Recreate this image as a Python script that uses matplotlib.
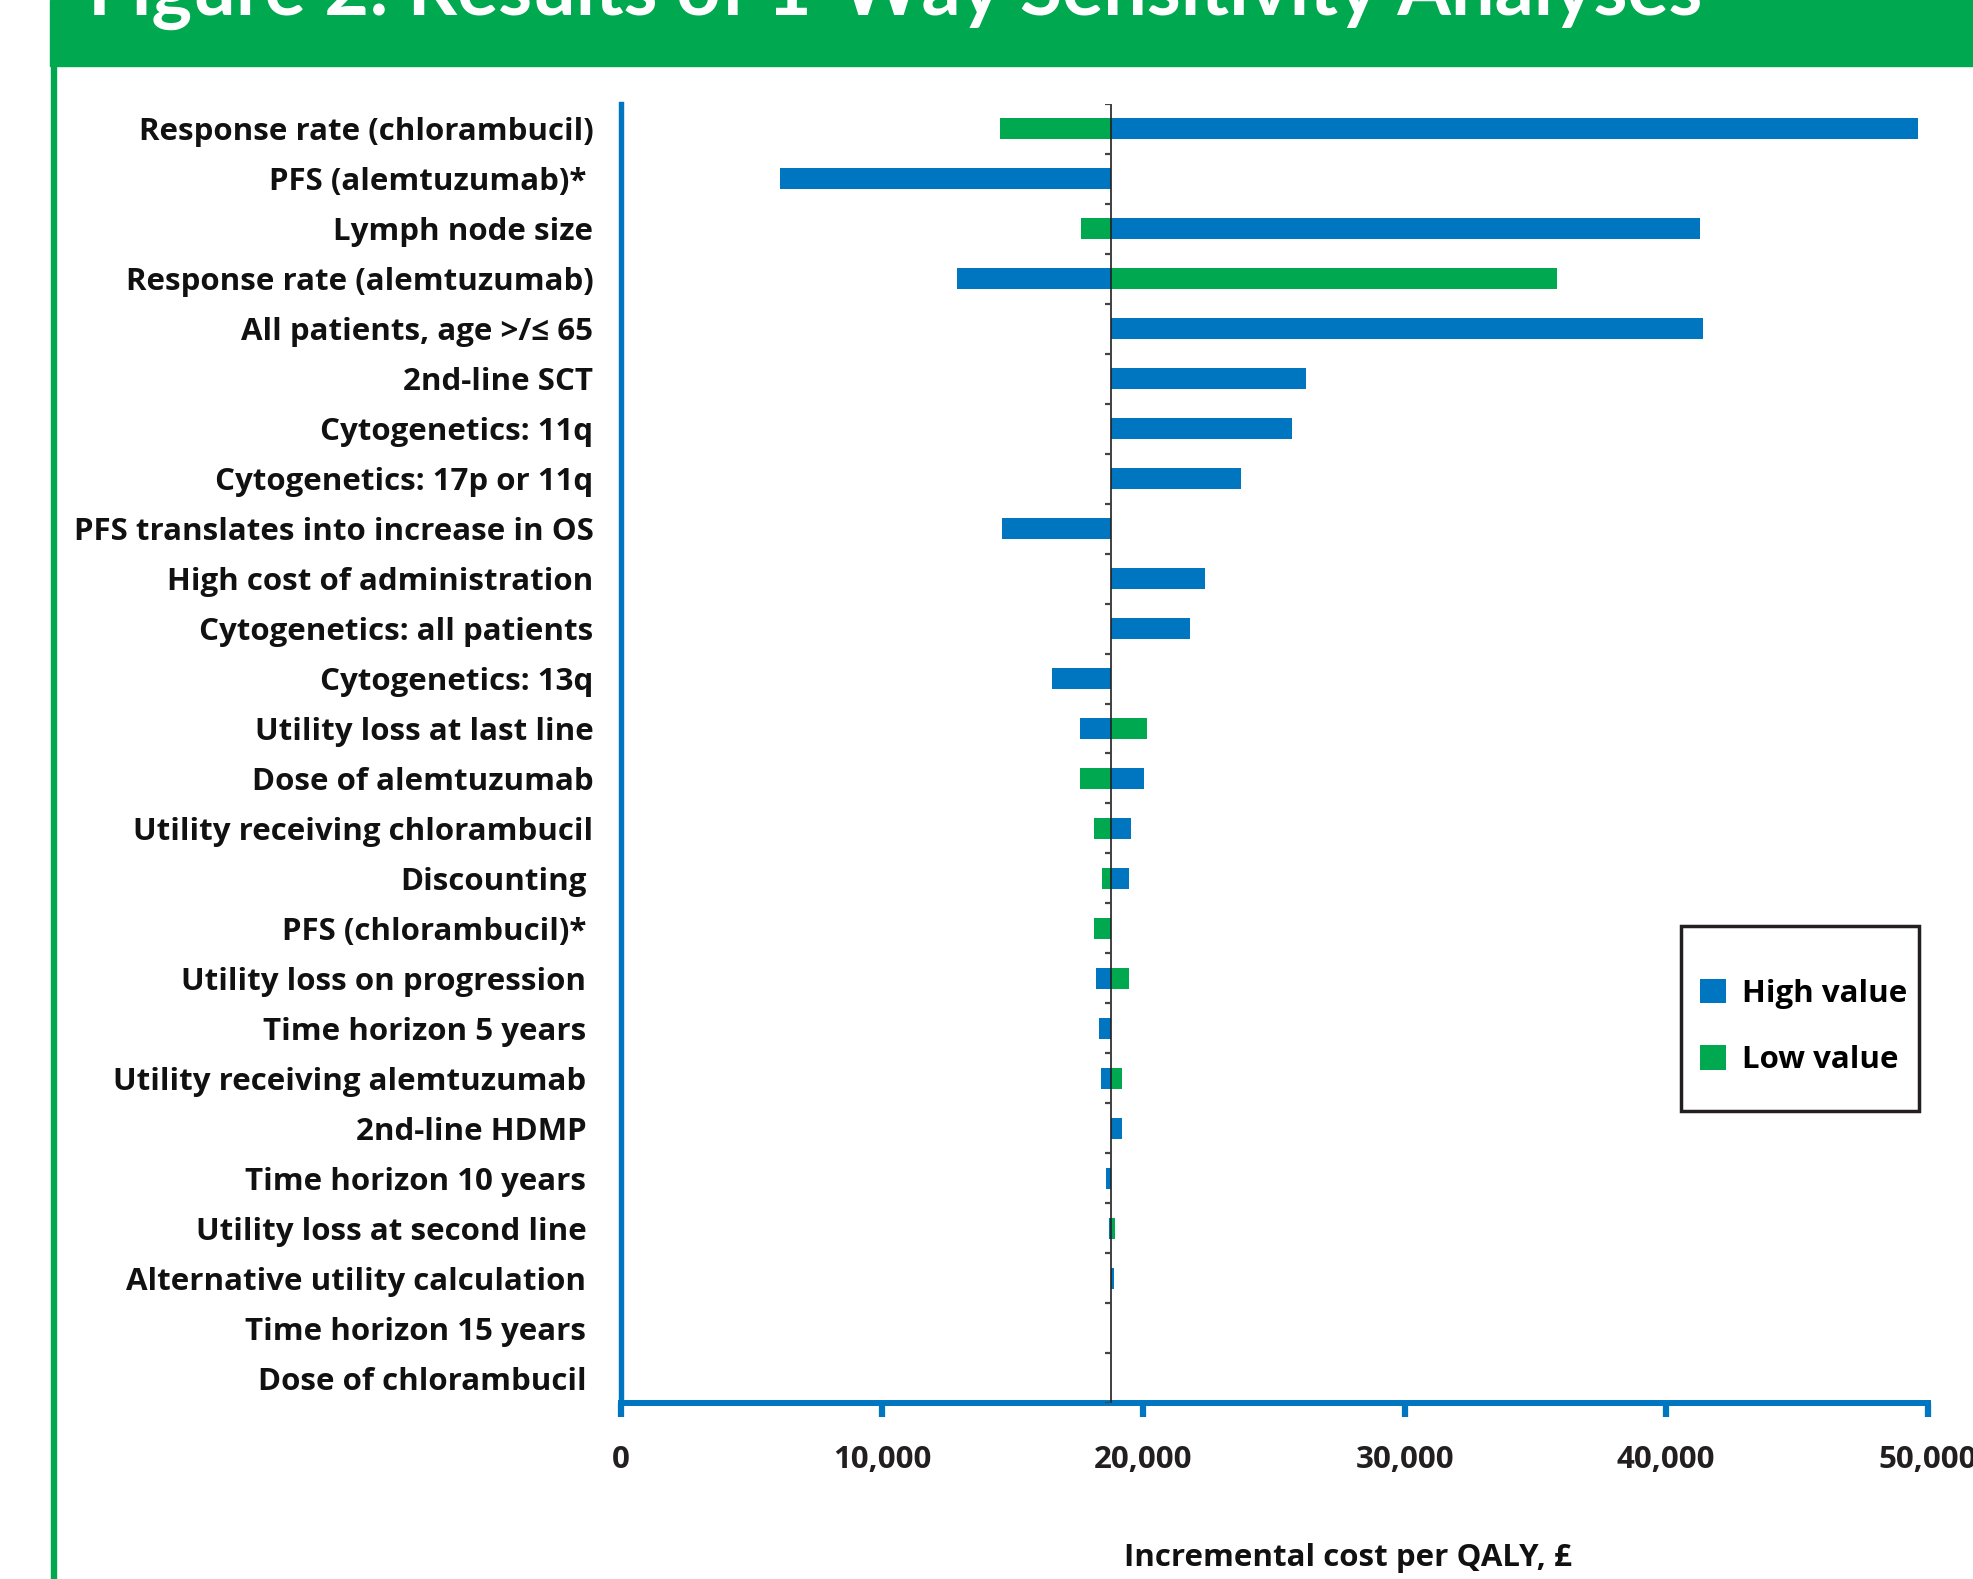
import matplotlib
matplotlib.use("Agg")
import matplotlib.pyplot as plt
import matplotlib.transforms as mtransforms
import numpy as np
from matplotlib.patches import Patch, Rectangle

# ---------------- data ----------------
categories = [
    "Response rate (chlorambucil)",
    "PFS (alemtuzumab)*",
    "Lymph node size",
    "Response rate (alemtuzumab)",
    "All patients, age >/\u2264 65",
    "2nd-line SCT",
    "Cytogenetics: 11q",
    "Cytogenetics: 17p or 11q",
    "PFS translates into increase in OS",
    "High cost of administration",
    "Cytogenetics: all patients",
    "Cytogenetics: 13q",
    "Utility loss at last line",
    "Dose of alemtuzumab",
    "Utility receiving chlorambucil",
    "Discounting",
    "PFS (chlorambucil)*",
    "Utility loss on progression",
    "Time horizon 5 years",
    "Utility receiving alemtuzumab",
    "2nd-line HDMP",
    "Time horizon 10 years",
    "Utility loss at second line",
    "Alternative utility calculation",
    "Time horizon 15 years",
    "Dose of chlorambucil",
]
nan = np.nan
base_value = 18770
high_values = [49650, 6110, 41280, 12890, 41420, 26220, 25680, 23720, 14590,
               22370, 21780, 16500, 17570, 20020, 19520, 19450, nan, 18180,
               18300, 18380, 19170, 18570, 18680, 18860, nan, nan]
low_values = [14530, nan, 17600, 35840, nan, nan, nan, nan, nan,
              nan, nan, nan, 20160, 17570, 18110, 18410, 18110, 19450,
              nan, 19200, nan, nan, 18900, nan, nan, nan]
x_ticks = [0, 10000, 20000, 30000, 40000, 50000]
x_tick_labels = ["0", "10,000", "20,000", "30,000", "40,000", "50,000"]
series_labels = ["High value", "Low value"]
title = "Figure 2: Results of 1-Way Sensitivity Analyses"
xlabel = "Incremental cost per QALY, \u00a3"

# ---------------- style ----------------
BLUE = "#0076C0"
GREEN = "#00A94F"
DARK = "#231F20"
FONT = ["Open Sans", "DejaVu Sans"]
FS = 22.5

W, H = 1973, 1579
fig = plt.figure(figsize=(W / 100, H / 100), dpi=100)
fig.patch.set_facecolor("white")


def fx(px):
    return px / W


def fy(py):
    return 1 - py / H


# header band and left border
fig.patches.append(Rectangle((fx(50), fy(66)), 1 - fx(50), 66 / H,
                             transform=fig.transFigure, color=GREEN, zorder=0))
fig.patches.append(Rectangle((fx(50.5), 0), 5 / W, 1,
                             transform=fig.transFigure, color=GREEN, zorder=0))
t = fig.text(fx(88), fy(15), title, color="white", fontsize=50,
             fontweight="bold", family=["Lato", "DejaVu Sans"],
             va="baseline", ha="left")
r = fig.canvas.get_renderer()
bw = t.get_window_extent(r).width
t.set_fontsize(50 * 1616 / bw)

# axes
ax = fig.add_axes([fx(620.5), fy(1403), (1927.5 - 620.5) / W, (1403 - 104) / H])
n = len(categories)
y = np.arange(n)

for vals, color, lab in [(high_values, BLUE, series_labels[0]),
                         (low_values, GREEN, series_labels[1])]:
    v = np.array(vals, dtype=float)
    m = ~np.isnan(v)
    left = np.minimum(v, base_value)
    width = np.abs(v - base_value)
    ax.barh(y[m], width[m], left=left[m], height=0.42, color=color,
            linewidth=0, zorder=2, label=lab)

ax.set_xlim(0, 50000)
ax.set_ylim(n - 0.5, -0.5)

# baseline and category-boundary ticks
ax.axvline(base_value, color=DARK, lw=1.2, zorder=3)
ax.hlines(np.arange(n + 1) - 0.5, base_value - 240, base_value,
          color="#444444", lw=1.6, zorder=3)

for s in ["top", "right"]:
    ax.spines[s].set_visible(False)
ax.spines["left"].set_color(BLUE)
ax.spines["left"].set_linewidth(3.9)
ax.spines["bottom"].set_color(BLUE)
ax.spines["bottom"].set_linewidth(4.3)

ax.set_xticks(x_ticks)
ax.set_xticklabels(x_tick_labels, fontsize=FS, fontweight="bold",
                   family=FONT, color=DARK)
ax.tick_params(axis="x", direction="out", length=10, width=4.5,
               color=BLUE, pad=20)
ax.set_yticks(y)
ax.set_yticklabels(categories, fontsize=FS, fontweight="bold",
                   family=FONT, color="#111111")
ax.tick_params(axis="y", length=0, pad=19.5)

# in the original, some labels sit slightly further left
shift = mtransforms.ScaledTranslation(-5 / 72, 0, fig.dpi_scale_trans)
for i, lbl in enumerate(ax.get_yticklabels()):
    if i == 1 or i >= 15:
        lbl.set_transform(lbl.get_transform() + shift)

fig.text(fx(1124), fy(1558), xlabel, fontsize=FS, fontweight="bold",
         family=FONT, color="#111111", ha="left", va="center")

# legend
handles = [Patch(facecolor=BLUE, edgecolor="none"),
           Patch(facecolor=GREEN, edgecolor="none")]
fig.legend(handles, series_labels, loc="upper left",
           bbox_to_anchor=(fx(1700), fy(979)), bbox_transform=fig.transFigure,
           frameon=False, borderpad=0, borderaxespad=0,
           handlelength=0.82, handleheight=0.82,
           handletextpad=0.52, labelspacing=1.16,
           prop={"family": FONT, "weight": "bold", "size": FS})
fig.patches.append(Rectangle((fx(1681), fy(1111)), 238 / W, 185 / H,
                             transform=fig.transFigure, fill=False,
                             edgecolor=DARK, lw=2.5, zorder=5))

fig.savefig("out.png", dpi=100, facecolor="white")
